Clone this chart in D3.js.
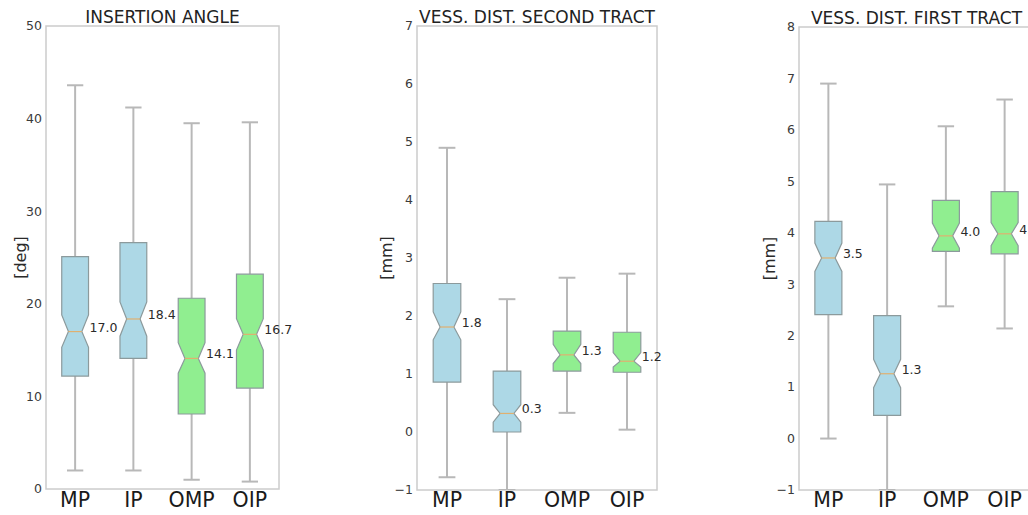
<!DOCTYPE html>
<html>
<head>
<meta charset="utf-8">
<script src="https://cdn.jsdelivr.net/npm/d3@7"></script>
<style>
  body { margin: 0; background: #fff; }
  svg { display: block; font-family: "DejaVu Sans", sans-serif; }
</style>
</head>
<body>
<svg id="chart" width="1028" height="515"></svg>
<script>
// Groups shared by all three panels
const groups = ["MP", "IP", "OMP", "OIP"];
const groupColors = ["#add8e6", "#add8e6", "#90ee90", "#90ee90"];

// Panel 1: insertion angle [deg]
const angleLow    = [2.0, 2.0, 1.0, 0.8];
const angleQ1     = [12.2, 14.1, 8.1, 10.9];
const angleMedian = [17.0, 18.4, 14.1, 16.7];
const angleQ3     = [25.1, 26.6, 20.6, 23.2];
const angleHigh   = [43.6, 41.2, 39.5, 39.6];
const angleNotchLo = [15.3, 16.5, 12.5, 15.0];
const angleNotchHi = [18.8, 20.2, 15.8, 18.4];
const angleTicks = [0, 10, 20, 30, 40, 50];

// Panel 2: vessel distance, second tract [mm]
const secondLow    = [-0.78, -1.0, 0.33, 0.04];
const secondQ1     = [0.86, 0.0, 1.05, 1.03];
const secondMedian = [1.8, 0.3, 1.3, 1.2];
const secondQ3     = [2.56, 1.05, 1.74, 1.72];
const secondHigh   = [4.9, 2.29, 2.66, 2.73];
const secondNotchLo = [1.59, 0.17, 1.18, 1.12];
const secondNotchHi = [2.07, 0.47, 1.51, 1.37];
const secondTicks = [-1, 0, 1, 2, 3, 4, 5, 6, 7];

// Panel 3: vessel distance, first tract [mm]
const firstLow    = [0.0, -1.0, 2.57, 2.14];
const firstQ1     = [2.41, 0.45, 3.64, 3.59];
const firstMedian = [3.5, 1.3, 4.0, 4.0];
const firstQ3     = [4.22, 2.39, 4.63, 4.80];
const firstHigh   = [6.90, 4.94, 6.07, 6.59];
const firstNotchLo = [3.25, 0.99, 3.70, 3.75];
const firstNotchHi = [3.80, 1.54, 4.19, 4.20];
const firstTicks = [-1, 0, 1, 2, 3, 4, 5, 6, 7, 8];

// plotted medians are drawn at their exact positions, labels are rounded strings
const firstMedianPos = [3.51, 1.26, 3.94, 3.98];
const secondMedianPos = [1.81, 0.32, 1.33, 1.22];
const angleMedianPos = [17.0, 18.36, 14.1, 16.7];

const panels = [
  { title: "INSERTION ANGLE", ylabel: "[deg]", domain: [0, 50], ticks: angleTicks,
    low: angleLow, q1: angleQ1, med: angleMedianPos, medLabel: angleMedian, q3: angleQ3, high: angleHigh,
    nlo: angleNotchLo, nhi: angleNotchHi,
    left: 46, right: 279, top: 26, bottom: 489, ylabelX: 20 },
  { title: "VESS. DIST. SECOND TRACT", ylabel: "[mm]", domain: [-1, 7], ticks: secondTicks,
    low: secondLow, q1: secondQ1, med: secondMedianPos, medLabel: secondMedian, q3: secondQ3, high: secondHigh,
    nlo: secondNotchLo, nhi: secondNotchHi,
    left: 417, right: 657, top: 26, bottom: 490, ylabelX: 386 },
  { title: "VESS. DIST. FIRST TRACT", ylabel: "[mm]", domain: [-1, 8], ticks: firstTicks,
    low: firstLow, q1: firstQ1, med: firstMedianPos, medLabel: firstMedian, q3: firstQ3, high: firstHigh,
    nlo: firstNotchLo, nhi: firstNotchHi,
    left: 799, right: 1034, top: 27, bottom: 490, ylabelX: 769 }
];

const svg = d3.select("#chart");
const fmt = d3.format("d");
const fmt1 = d3.format(".1f");

panels.forEach((p, pi) => {
  const x = d3.scalePoint().domain(groups).range([p.left, p.right]).padding(0.5);
  const y = d3.scaleLinear().domain(p.domain).range([p.bottom, p.top]);
  const step = x.step();
  const hw = step * 0.23;      // box half width
  const nw = hw / 2;           // notch half width at median
  const cw = step * 0.14;      // cap half width

  const g = svg.append("g");

  const clipId = "clip" + pi;
  g.append("clipPath").attr("id", clipId)
    .append("rect").attr("x", p.left).attr("y", p.top)
    .attr("width", p.right - p.left).attr("height", p.bottom - p.top);

  // frame
  g.append("rect")
    .attr("x", p.left).attr("y", p.top)
    .attr("width", p.right - p.left).attr("height", p.bottom - p.top)
    .attr("fill", "none").attr("stroke", "#cccccc").attr("stroke-width", 1.5);

  // y ticks
  g.append("g").selectAll("text").data(p.ticks).enter().append("text")
    .attr("x", p.left - 4).attr("y", d => y(d)).attr("dy", "0.35em")
    .attr("text-anchor", "end").attr("font-size", 12.5).attr("fill", "#3a3a3a")
    .text(d => fmt(d));

  // y label
  g.append("text")
    .attr("transform", `translate(${p.ylabelX},${(p.top + p.bottom) / 2}) rotate(-90)`)
    .attr("dy", "0.35em").attr("text-anchor", "middle")
    .attr("font-size", 16).attr("fill", "#2a2a2a").text(p.ylabel);

  // title
  g.append("text")
    .attr("x", (p.left + p.right) / 2).attr("y", p.top - 3)
    .attr("text-anchor", "middle").attr("font-size", 17).attr("fill", "#222")
    .text(p.title);

  // x labels
  g.append("g").selectAll("text").data(groups).enter().append("text")
    .attr("x", d => x(d)).attr("y", 507)
    .attr("text-anchor", "middle").attr("font-size", 20.5).attr("fill", "#1a1a1a")
    .text(d => d);

  const boxes = g.append("g").attr("clip-path", `url(#${clipId})`)
    .selectAll("g").data(groups).enter().append("g");

  // whiskers
  boxes.append("line")
    .attr("x1", d => x(d)).attr("x2", d => x(d))
    .attr("y1", (d, i) => y(p.q3[i])).attr("y2", (d, i) => y(p.high[i]))
    .attr("stroke", "#b8b8b8").attr("stroke-width", 2);
  boxes.append("line")
    .attr("x1", d => x(d)).attr("x2", d => x(d))
    .attr("y1", (d, i) => y(p.q1[i])).attr("y2", (d, i) => y(p.low[i]))
    .attr("stroke", "#b8b8b8").attr("stroke-width", 2);
  // caps
  boxes.append("line")
    .attr("x1", d => x(d) - cw).attr("x2", d => x(d) + cw)
    .attr("y1", (d, i) => y(p.high[i])).attr("y2", (d, i) => y(p.high[i]))
    .attr("stroke", "#b8b8b8").attr("stroke-width", 2);
  boxes.append("line")
    .attr("x1", d => x(d) - cw).attr("x2", d => x(d) + cw)
    .attr("y1", (d, i) => y(p.low[i])).attr("y2", (d, i) => y(p.low[i]))
    .attr("stroke", "#b8b8b8").attr("stroke-width", 2);

  // notched boxes
  boxes.append("path")
    .attr("d", (d, i) => {
      const c = x(d);
      const pts = [
        [c - hw, y(p.q1[i])], [c - hw, y(p.nlo[i])], [c - nw, y(p.med[i])],
        [c - hw, y(p.nhi[i])], [c - hw, y(p.q3[i])], [c + hw, y(p.q3[i])],
        [c + hw, y(p.nhi[i])], [c + nw, y(p.med[i])], [c + hw, y(p.nlo[i])],
        [c + hw, y(p.q1[i])]
      ];
      return d3.line()(pts) + "Z";
    })
    .attr("fill", (d, i) => groupColors[i])
    .attr("stroke", "#8c9a9c").attr("stroke-width", 1.2);

  // medians
  boxes.append("line")
    .attr("x1", d => x(d) - nw).attr("x2", d => x(d) + nw)
    .attr("y1", (d, i) => y(p.med[i])).attr("y2", (d, i) => y(p.med[i]))
    .attr("stroke", "#e0b070").attr("stroke-width", 1.2);

  // median labels (the last one runs off the right edge, as in the source)
  g.append("g").selectAll("text").data(groups).enter().append("text")
    .attr("x", d => x(d) + hw + 1).attr("y", (d, i) => y(p.med[i]))
    .attr("font-size", 12.5).attr("fill", "#2a2a2a")
    .text((d, i) => fmt1(p.medLabel[i]));
});
</script>
</body>
</html>
